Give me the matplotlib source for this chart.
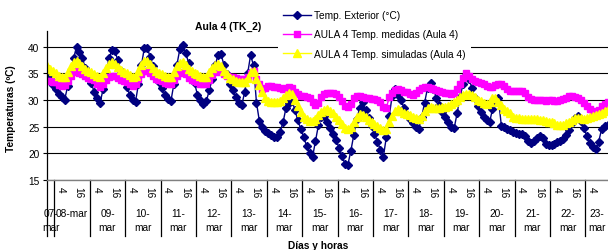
import numpy as np
import matplotlib.pyplot as plt
from matplotlib.transforms import blended_transform_factory

plt.rcParams['font.family'] = ['Liberation Sans', 'DejaVu Sans']

W, H = 608, 251

# readings every 2 hours, first one at 07-mar 19:00 (hours counted from 08-mar 00:00)
t_start = -5
t_step = 2

t_ext = [
    36.0, 34.3, 32.8,                                                    # 07-mar
    32.0, 31.2, 30.5, 30.1, 32.6, 35.2, 37.8, 40.0, 39.0, 37.8, 36.0, 34.3,  # 08
    33.2, 31.5, 30.3, 29.5, 32.0, 35.0, 37.8, 39.4, 39.2, 37.5, 35.5, 33.8,  # 09
    32.5, 31.0, 30.0, 29.7, 33.0, 36.5, 39.8, 39.8, 38.0, 36.3, 34.8, 33.3,  # 10
    32.2, 31.0, 30.2, 29.8, 33.0, 36.5, 39.5, 40.3, 38.8, 37.0, 35.0, 33.2,  # 11
    31.0, 30.0, 29.3, 29.8, 31.8, 34.0, 36.5, 38.5, 38.6, 36.5, 34.8, 33.0,  # 12
    31.8, 30.5, 29.5, 29.0, 31.5, 35.0, 38.4, 36.5, 29.5, 26.0, 25.0, 24.2,  # 13
    23.8, 23.4, 23.1, 23.0, 24.0, 25.8, 28.5, 29.5, 29.9, 28.2, 26.2, 24.6,  # 14
    23.0, 21.4, 20.0, 19.3, 22.3, 25.3, 26.8, 27.0, 25.9, 24.7, 23.6, 22.5,  # 15
    21.0, 19.5, 18.0, 17.9, 20.5, 23.5, 26.5, 28.5, 29.6, 28.1, 26.6, 25.2,  # 16
    23.7, 22.2, 20.7, 19.3, 23.0, 27.0, 30.8, 32.0, 31.0, 30.0, 28.5, 27.2,  # 17
    26.4, 25.6, 24.9, 24.6, 26.8, 29.5, 32.3, 33.2, 32.0, 30.4, 29.0, 27.8,  # 18
    26.8, 25.8, 25.0, 24.7, 27.5, 30.5, 33.0, 34.7, 34.0, 32.3, 30.3, 28.8,  # 19
    27.8, 26.9, 26.2, 25.8, 28.3, 30.0, 30.3, 25.2, 24.9, 24.6, 24.3, 24.0,  # 20
    23.8, 23.7, 23.6, 23.2, 22.4, 22.0, 22.3, 22.8, 23.2, 22.8, 21.8, 21.5,  # 21
    21.6, 21.8, 22.1, 22.3, 22.7, 23.4, 24.4, 25.6, 26.6, 27.0, 26.0, 24.7,  # 22
    23.2, 22.0, 21.2, 20.8, 22.2, 24.6, 25.2, 25.4,                          # 23
]

t_med = [
    33.6, 33.5, 33.4,
    33.3, 32.9, 32.7, 32.8, 33.6, 34.6, 35.3, 35.5, 35.1, 34.8, 34.5, 34.2,
    34.0, 33.7, 33.0, 32.4, 33.0, 33.8, 34.4, 34.6, 34.5, 34.2, 33.8, 33.5,
    33.3, 33.0, 32.7, 33.0, 34.0, 34.9, 35.4, 35.5, 35.0, 34.5, 34.0, 33.7,
    33.5, 33.2, 33.0, 33.0, 33.8, 34.6, 35.1, 35.2, 34.8, 34.2, 33.8, 33.5,
    33.3, 33.1, 33.0, 33.0, 33.8, 34.7, 35.3, 35.5, 35.3, 34.8, 34.5, 34.3,
    34.3, 34.2, 34.0, 33.9, 33.9, 34.3, 35.0, 35.5, 34.0, 33.0, 32.1, 32.3,
    32.6, 32.6, 32.5, 32.4, 32.2, 32.0, 32.2, 32.4, 32.3, 31.6, 31.1, 30.8,
    30.7, 30.5, 30.3, 29.6, 29.0, 29.5, 30.6, 31.2, 31.4, 31.4, 31.3, 31.1,
    30.6, 29.8, 28.9, 28.6, 29.3, 30.3, 30.8, 30.8, 30.6, 30.4, 30.3, 30.2,
    30.2, 30.1, 29.6, 28.6, 28.5, 30.5, 31.4, 31.8, 32.0, 31.8, 31.6, 31.5,
    31.2, 31.0, 31.3, 31.8, 32.2, 32.4, 32.4, 32.3, 32.1, 31.9, 31.7, 31.5,
    31.4, 31.3, 31.2, 31.3, 32.0, 33.0, 34.2, 35.0, 34.6, 34.0, 33.6, 33.4,
    33.2, 33.0, 32.7, 32.4, 32.5, 32.8, 33.0, 33.0, 32.6, 32.0, 31.7, 31.7,
    31.7, 31.7, 31.7, 31.3, 30.6, 30.2, 30.1, 30.0, 30.0, 30.0, 29.9, 30.0,
    30.0, 29.9, 29.9, 30.0, 30.2, 30.4, 30.7, 30.8, 30.6, 30.3, 30.0, 29.5,
    28.9, 28.4, 28.0, 27.8, 28.2, 28.9, 29.3, 29.6,
]

t_sim = [
    36.4, 35.8, 35.4,
    35.0, 34.6, 34.3, 34.4, 35.2, 36.3, 37.1, 37.4, 37.0, 36.4, 35.9, 35.5,
    35.2, 34.9, 34.5, 34.3, 35.0, 36.0, 36.8, 37.1, 36.8, 36.2, 35.7, 35.3,
    35.0, 34.7, 34.4, 34.5, 35.5, 36.6, 37.3, 37.4, 36.8, 36.0, 35.4, 35.0,
    34.8, 34.5, 34.3, 34.4, 35.3, 36.3, 37.0, 37.1, 36.5, 35.9, 35.4, 35.0,
    34.8, 34.5, 34.3, 34.4, 35.2, 36.0, 36.6, 36.8, 36.3, 35.5, 34.8, 34.2,
    33.9, 33.6, 33.4, 33.3, 33.4, 34.2, 35.2, 35.5, 34.0, 32.8, 31.6, 30.4,
    29.9, 29.7, 29.6, 29.6, 29.9, 30.4, 30.9, 31.3, 31.2, 30.0, 28.8, 27.8,
    26.8, 26.4, 26.1, 26.0, 26.5, 27.1, 27.8, 28.2, 28.3, 28.0, 27.5, 26.9,
    26.3, 25.5, 24.8, 24.6, 25.0, 25.8, 26.8, 27.3, 27.2, 26.8, 26.3, 25.8,
    25.5, 25.1, 24.7, 24.3, 24.6, 25.8, 27.0, 28.0, 28.3, 28.0, 27.6, 27.3,
    27.1, 26.9, 26.6, 26.5, 27.0, 27.9, 28.5, 28.6, 28.5, 28.5, 28.5, 28.6,
    28.7, 28.9, 29.2, 29.6, 30.0, 30.5, 31.0, 31.2, 31.2, 31.0, 30.5, 30.0,
    29.8, 29.5, 29.3, 29.6, 30.3, 30.4, 29.6, 29.0, 28.4, 28.0, 27.5, 26.9,
    26.7, 26.6, 26.5, 26.4, 26.4, 26.5, 26.5, 26.4, 26.3, 26.2, 26.0, 25.9,
    25.8, 25.6, 25.4, 25.3, 25.4, 25.6, 25.9, 26.3, 26.6, 26.7, 26.6, 26.5,
    26.6, 26.8, 27.0, 27.1, 27.3, 27.6, 27.9, 28.1,
]

days = ['07', '08', '09', '10', '11', '12', '13', '14', '15', '16',
        '17', '18', '19', '20', '21', '22', '23']
hour_labels = ['4', '16']
labels = ['Temp. Exterior (°C)', 'AULA 4 Temp. medidas (Aula 4)',
          'AULA 4 Temp. simuladas (Aula 4)']

x_min, x_max = -5, 375.3

fig = plt.figure(figsize=(W / 100, H / 100), dpi=100)
ax = fig.add_axes([47 / W, 1 - 181 / H, (W - 47) / W, 149 / H])

hrs = t_start + t_step * np.arange(len(t_ext))
l1, = ax.plot(hrs, t_ext, color='#000080', lw=1.0, marker='D', ms=4.0, mec='#000080')
l2, = ax.plot(hrs, t_med, color='#FF00FF', lw=1.0, marker='s', ms=4.6, mec='#FF00FF')
l3, = ax.plot(hrs, t_sim, color='#FFFF00', lw=1.0, marker='^', ms=5.2, mec='#FFFF00')

ax.set_xlim(x_min, x_max)
ax.set_ylim(15, 42.95)
ax.set_yticks([15, 20, 25, 30, 35, 40])
ax.set_xticks([])
ax.yaxis.grid(True, color='black', lw=0.8)
ax.set_axisbelow(True)
ax.tick_params(axis='y', length=3, width=0.8, pad=2.5, labelsize=7.3)
for s in ['top', 'right']:
    ax.spines[s].set_visible(False)
ax.spines['left'].set_linewidth(0.9)
ax.spines['bottom'].set_color('#808080')
ax.spines['bottom'].set_linewidth(1.0)

# category axis: day separators, hour labels and day labels
tr = blended_transform_factory(ax.transData, ax.transAxes)
sep_bottom = -(237 - 181) / 149
for k in range(len(days) - 1):
    ax.plot([24 * k, 24 * k], [0, sep_bottom], color='black', lw=0.9,
            transform=tr, clip_on=False)
ax.plot([x_min, x_min], [0, sep_bottom], color='black', lw=0.9,
        transform=tr, clip_on=False)

for k in range(len(days) - 1):
    for hl in hour_labels:
        ax.text(24 * k + int(hl) + 0.5, -6 / 149, hl, rotation=-90, ha='center',
                va='top', fontsize=7.3, transform=tr, clip_on=False)

for i, d in enumerate(days):
    if i == 0:
        xc, txt = (x_min + 0) / 2, d + '-\nmar'
    elif i == len(days) - 1:
        xc, txt = (24 * (i - 1) + x_max) / 2, d + '-\nmar'
    elif i == 1:
        xc, txt = 12, d + '-mar'
    else:
        xc, txt = 24 * (i - 1) + 12, d + '-\nmar'
    ax.text(xc, -28 / 149, txt, ha='center', va='top', fontsize=7.3,
            linespacing=1.45, transform=tr, clip_on=False)

fig.text(228 / W, 1 - 27 / H, 'Aula 4 (TK_2)', ha='center', va='center',
         fontsize=7.5, weight='bold')
fig.text(11 / W, 1 - 109 / H, 'Temperaturas (ºC)', rotation=90, ha='center',
         va='center', fontsize=7.3, weight='bold')
fig.text(318 / W, 1 - 246 / H, 'Días y horas', ha='center', va='center',
         fontsize=7.3, weight='bold')

fig.legend([l1, l2, l3], labels, loc='upper left',
           bbox_to_anchor=(278 / W, 1 - 6 / H), frameon=True, facecolor='white',
           edgecolor='none', framealpha=1, fontsize=7.3, handlelength=2.8,
           handletextpad=0.25, labelspacing=0.93, borderpad=0.5,
           borderaxespad=0, fancybox=False)

fig.savefig('out.png', dpi=100)
